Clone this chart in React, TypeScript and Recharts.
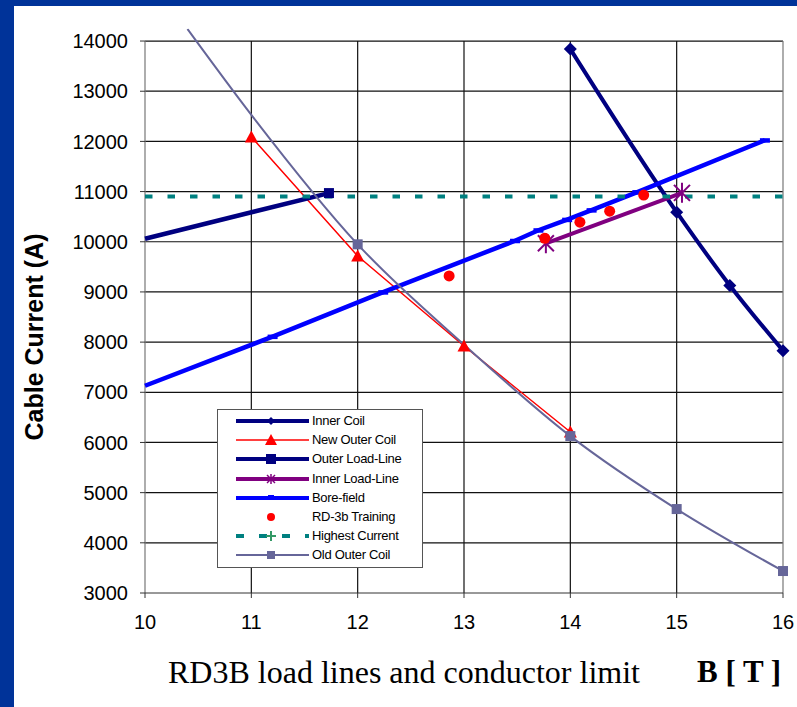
import React from "react";
import { ComposedChart, Line, XAxis, YAxis, ReferenceLine } from "recharts";

const xTicks = [10, 11, 12, 13, 14, 15, 16];
const yTicks = [3000, 4000, 5000, 6000, 7000, 8000, 9000, 10000, 11000, 12000, 13000, 14000];

const innerCoil = [
  { x: 14, y: 13840 },
  { x: 15, y: 10590 },
  { x: 15.5, y: 9130 },
  { x: 16, y: 7830 },
];
const newOuterCoil = [
  { x: 11, y: 12090 },
  { x: 12, y: 9716 },
  { x: 13, y: 7922 },
  { x: 14, y: 6208 },
];
const outerLoadLine = [
  { x: 10, y: 10060 },
  { x: 11.73, y: 10970 },
];
const innerLoadLine = [
  { x: 13.77, y: 9970 },
  { x: 15.05, y: 10975 },
];
const boreField = [
  { x: 10, y: 7130 },
  { x: 11.2, y: 8110 },
  { x: 12.24, y: 8995 },
  { x: 13.48, y: 10020 },
  { x: 13.7, y: 10230 },
  { x: 13.97, y: 10440 },
  { x: 14.2, y: 10630 },
  { x: 14.63, y: 10990 },
  { x: 15.83, y: 12024 },
];
const training = [
  { x: 12.86, y: 9320 },
  { x: 13.76, y: 10070 },
  { x: 14.09, y: 10390 },
  { x: 14.37, y: 10610 },
  { x: 14.69, y: 10930 },
];
const highestCurrent = [
  { x: 10, y: 10900 },
  { x: 16, y: 10900 },
];
const oldOuterCoil = [
  { x: 10.4, y: 14240 },
  { x: 11, y: 12530 },
  { x: 12, y: 9949 },
  { x: 13, y: 7950 },
  { x: 14, y: 6127 },
  { x: 15, y: 4673 },
  { x: 16, y: 3438 },
];

// which points carry a visible marker
const outerLoadMarkers = [11.73];
const boreMarkers = [11.2, 12.24, 13.48, 13.7, 13.97, 14.2, 14.63, 15.83];
const oldOuterMarkers = [12, 14, 15, 16];

const NAVY = "#000080";
const RED = "#ff0000";
const PURPLE = "#800080";
const BLUE = "#0000ff";
const TEAL = "#008080";
const SLATE = "#666699";
const FONT = "Liberation Sans, Arial, sans-serif";

const diamond = (cx: number, cy: number, r: number, fill: string, key?: any) => (
  <path key={key} d={`M${cx},${cy - r}L${cx + r},${cy}L${cx},${cy + r}L${cx - r},${cy}Z`} fill={fill} />
);
const triangle = (cx: number, cy: number, r: number, fill: string, key?: any) => (
  <path key={key} d={`M${cx},${cy - r}L${cx + r},${cy + r * 0.85}L${cx - r},${cy + r * 0.85}Z`} fill={fill} />
);
const square = (cx: number, cy: number, r: number, fill: string, key?: any) => (
  <rect key={key} x={cx - r} y={cy - r} width={r * 2} height={r * 2} fill={fill} />
);
const star = (cx: number, cy: number, r: number, stroke: string, w: number, key?: any) => (
  <g key={key} stroke={stroke} strokeWidth={w}>
    <line x1={cx} y1={cy - r} x2={cx} y2={cy + r} />
    <line x1={cx - r * 0.8} y1={cy - r * 0.8} x2={cx + r * 0.8} y2={cy + r * 0.8} />
    <line x1={cx - r * 0.8} y1={cy + r * 0.8} x2={cx + r * 0.8} y2={cy - r * 0.8} />
  </g>
);

const markerDot = (marks: number[] | null, draw: (cx: number, cy: number, key: any) => React.ReactElement) =>
  (props: any) => {
    const { cx, cy, index, payload } = props;
    if (marks && !marks.includes(payload.x)) return <g key={`e-${index}`} />;
    return draw(cx, cy, `m-${index}`);
  };

const legendItems = [
  { name: "Inner Coil", color: NAVY, w: 4, kind: "diamond" },
  { name: "New Outer Coil", color: RED, w: 1.5, kind: "triangle" },
  { name: "Outer Load-Line", color: NAVY, w: 4, kind: "square" },
  { name: "Inner Load-Line", color: PURPLE, w: 4, kind: "star" },
  { name: "Bore-field", color: BLUE, w: 4, kind: "dash" },
  { name: "RD-3b Training", color: RED, w: 0, kind: "dot" },
  { name: "Highest Current", color: TEAL, w: 4, kind: "plus" },
  { name: "Old Outer Coil", color: SLATE, w: 2, kind: "square" },
];

function LegendSymbol({ item }: { item: any }) {
  const cx = 53;
  const cy = 8;
  let mark: React.ReactNode = null;
  if (item.kind === "diamond") mark = diamond(cx, cy, 4, item.color);
  if (item.kind === "triangle") mark = triangle(cx, cy, 6, item.color);
  if (item.kind === "square") mark = square(cx, cy, item.color === SLATE ? 4 : 5, item.color);
  if (item.kind === "star") mark = star(cx, cy, 5, item.color, 1.5);
  if (item.kind === "dash") mark = <rect x={cx - 3} y={cy - 3} width={6} height={3} fill={item.color} />;
  if (item.kind === "dot") mark = <circle cx={cx} cy={cy} r={4} fill={item.color} />;
  if (item.kind === "plus")
    mark = (
      <g stroke="#339966" strokeWidth={2}>
        <line x1={cx - 5} y1={cy} x2={cx + 5} y2={cy} />
        <line x1={cx} y1={cy - 5} x2={cx} y2={cy + 5} />
      </g>
    );
  return (
    <svg width={92} height={16} style={{ position: "absolute", left: 0, top: 0 }}>
      {item.w > 0 && (
        <line
          x1={18}
          y1={cy}
          x2={91}
          y2={cy}
          stroke={item.color}
          strokeWidth={item.w}
          strokeDasharray={item.kind === "plus" ? "8 15" : undefined}
        />
      )}
      {mark}
    </svg>
  );
}

export default function App() {
  return (
    <div style={{ position: "absolute", left: 0, top: 0, width: 797, height: 707, background: "#003399", overflow: "hidden" }}>
      <div style={{ position: "absolute", left: 14, top: 6, width: 783, height: 701, background: "#ffffff" }} />
      <div style={{ position: "absolute", left: 0, top: 0 }}>
        <ComposedChart width={797} height={707} margin={{ top: 28.5, right: 14, bottom: 84, left: 85 }}>
          <XAxis
            type="number"
            dataKey="x"
            domain={[10, 16]}
            ticks={xTicks}
            height={30}
            stroke="#333"
            tickSize={5}
            tickMargin={17}
            tick={{ fill: "#000", fontSize: 20, fontFamily: FONT }}
          />
          <YAxis
            type="number"
            dataKey="y"
            domain={[3000, 14250]}
            allowDataOverflow
            ticks={yTicks}
            width={60}
            axisLine={false}
            tickLine={{ stroke: "#333" }}
            tickSize={5}
            tickMargin={12}
            tick={{ fill: "#000", fontSize: 20, fontFamily: FONT }}
          />
          {yTicks.slice(1).map((t) => (
            <ReferenceLine key={`h${t}`} segment={[{ x: 10, y: t }, { x: 16, y: t }]} stroke="#111" strokeWidth={1.2} />
          ))}
          {xTicks.map((t) => (
            <ReferenceLine
              key={`v${t}`}
              segment={[{ x: t, y: 3000 }, { x: t, y: 14000 }]}
              stroke={t === 10 || t === 16 ? "#777" : "#111"}
              strokeWidth={1.2}
            />
          ))}
          <Line data={innerCoil} dataKey="y" type="monotone" stroke={NAVY} strokeWidth={4} isAnimationActive={false}
            dot={markerDot(null, (cx, cy, k) => diamond(cx, cy, 6.5, NAVY, k))} />
          <Line data={newOuterCoil} dataKey="y" type="linear" stroke={RED} strokeWidth={1.5} isAnimationActive={false}
            dot={markerDot(null, (cx, cy, k) => triangle(cx, cy, 6.5, RED, k))} />
          <Line data={outerLoadLine} dataKey="y" type="linear" stroke={NAVY} strokeWidth={4.5} isAnimationActive={false}
            dot={markerDot(outerLoadMarkers, (cx, cy, k) => square(cx, cy, 5, NAVY, k))} />
          <Line data={innerLoadLine} dataKey="y" type="linear" stroke={PURPLE} strokeWidth={4} isAnimationActive={false}
            dot={markerDot(null, (cx, cy, k) => star(cx, cy, 10, PURPLE, 2, k))} />
          <Line data={boreField} dataKey="y" type="linear" stroke={BLUE} strokeWidth={4.5} isAnimationActive={false}
            dot={markerDot(boreMarkers, (cx, cy, k) => <rect key={k} x={cx - 5} y={cy - 2} width={10} height={4.5} fill={BLUE} />)} />
          <Line data={training} dataKey="y" stroke="none" isAnimationActive={false}
            dot={markerDot(null, (cx, cy, k) => <circle key={k} cx={cx} cy={cy} r={5.5} fill={RED} />)} />
          <Line data={highestCurrent} dataKey="y" type="linear" stroke={TEAL} strokeWidth={4} strokeDasharray="7.5 15" isAnimationActive={false}
            dot={false} />
          <Line data={oldOuterCoil} dataKey="y" type="monotone" stroke={SLATE} strokeWidth={2} isAnimationActive={false}
            dot={markerDot(oldOuterMarkers, (cx, cy, k) => square(cx, cy, 5, SLATE, k))} />
        </ComposedChart>
      </div>

      <div
        style={{
          position: "absolute",
          left: 34,
          top: 337,
          transform: "translate(-50%, -50%) rotate(-90deg)",
          whiteSpace: "nowrap",
          fontFamily: FONT,
          fontWeight: "bold",
          fontSize: 25,
          color: "#000",
        }}
      >
        Cable Current (A)
      </div>

      <div
        style={{
          position: "absolute",
          left: 217,
          top: 409,
          width: 204,
          height: 157,
          border: "1px solid #555",
          background: "#fff",
          fontFamily: FONT,
          fontSize: 13,
          color: "#000",
        }}
      >
        {legendItems.map((item, i) => (
          <div key={item.name} style={{ position: "absolute", left: 0, top: 3 + i * 19.2, width: 204, height: 16 }}>
            <LegendSymbol item={item} />
            <span style={{ position: "absolute", left: 94, top: 0, lineHeight: "16px", whiteSpace: "nowrap", letterSpacing: -0.3 }}>
              {item.name}
            </span>
          </div>
        ))}
      </div>

      <div
        style={{
          position: "absolute",
          left: 168,
          top: 654,
          fontFamily: "Liberation Serif, Times New Roman, serif",
          fontSize: 32,
          lineHeight: "36px",
          whiteSpace: "nowrap",
          color: "#000",
        }}
      >
        RD3B load lines and conductor limit
      </div>
      <div
        style={{
          position: "absolute",
          left: 697,
          top: 654,
          fontFamily: "Liberation Serif, Times New Roman, serif",
          fontWeight: "bold",
          fontSize: 31,
          lineHeight: "36px",
          whiteSpace: "nowrap",
          color: "#000",
        }}
      >
        B [ T ]
      </div>
    </div>
  );
}
